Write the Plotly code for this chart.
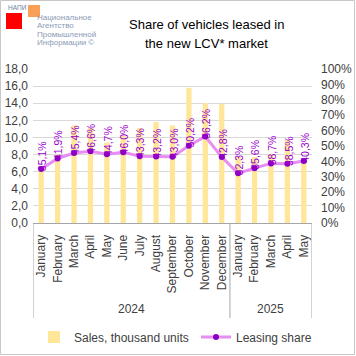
import plotly.graph_objects as go

# ---- data ----
months = ["January", "February", "March", "April", "May", "June", "July", "August",
          "September", "October", "November", "December",
          "January", "February", "March", "April", "May"]
years = ["2024"] * 12 + ["2025"] * 5
sales = [6.4, 8.0, 11.4, 11.1, 9.4, 10.2, 11.1, 11.8, 11.4, 15.8, 14.0, 13.9,
         7.7, 7.7, 8.1, 9.7, 7.1]
leasing_share = [35.1, 41.9, 45.4, 46.6, 44.7, 46.0, 43.3, 43.2, 43.0, 50.2, 56.2, 42.8,
                 32.3, 35.6, 38.7, 38.5, 40.3]
left_ticks = [0, 2, 4, 6, 8, 10, 12, 14, 16, 18]
right_ticks = [0, 10, 20, 30, 40, 50, 60, 70, 80, 90, 100]
right_labels = [f"{v}%" for v in right_ticks]

# ---- layout geometry (pixels) ----
W, H = 356, 356
L, R, T, B = 33, 312, 69, 223


def px(x):
    return (x - L) / (R - L)


def py(y):
    return (B - y) / (B - T)


def cx(x):
    return x / W


def cy(y):
    return 1 - y / H


FONT = "Liberation Sans"
xs = list(range(len(months)))

fig = go.Figure()
fig.add_trace(go.Bar(
    x=xs, y=sales, name="Sales, thousand units", legend="legend", showlegend=True,
    marker=dict(color="#FFE699", line=dict(width=0)), width=0.32,
))
fig.add_trace(go.Scatter(
    x=xs, y=leasing_share, name="Leasing share", yaxis="y2", legend="legend2",
    showlegend=True, mode="lines+markers",
    line=dict(color="#E88DF2", width=3),
    marker=dict(color="#8A00C2", size=6),
))

annotations = []
for x, v in zip(xs, leasing_share):
    annotations.append(dict(
        x=x, y=v, xref="x", yref="y2", text=f"{v:.1f}%".replace(".", ","),
        textangle=-90, showarrow=False, xanchor="center", yanchor="middle",
        yshift=13, xshift=1,
        font=dict(family=FONT, size=10.5, color="#9900CC"),
    ))

# year group labels and dividers
groups = []
for yr in dict.fromkeys(years):
    idx = [i for i, y in enumerate(years) if y == yr]
    groups.append((yr, idx[0], idx[-1]))
shapes = []
bounds = sorted({g[1] - 0.5 for g in groups} | {g[2] + 0.5 for g in groups})
for b in bounds:
    shapes.append(dict(type="line", xref="x", yref="paper", x0=b, x1=b,
                       y0=0, y1=py(318), line=dict(color="#A6A6A6", width=1)))
for yr, a, b in groups:
    annotations.append(dict(
        x=(a + b) / 2, y=py(309), xref="x", yref="paper", text=yr,
        showarrow=False, xanchor="center", yanchor="middle",
        font=dict(family=FONT, size=12, color="#404040"),
    ))

# outer border
shapes.append(dict(type="rect", xref="paper", yref="paper",
                   x0=px(0.5), x1=px(354.5), y0=py(354.5), y1=py(0.5),
                   line=dict(color="#C8C8C8", width=1)))

# logo
shapes.append(dict(type="rect", xref="paper", yref="paper",
                   x0=px(6), x1=px(22), y0=py(29), y1=py(13),
                   fillcolor="#FF0000", line=dict(width=0)))
shapes.append(dict(type="rect", xref="paper", yref="paper",
                   x0=px(28), x1=px(40), y0=py(17), y1=py(5),
                   fillcolor="#F79646", opacity=0.9, line=dict(width=0)))
annotations.append(dict(x=px(6), y=py(7.5), xref="paper", yref="paper", text="НАПИ",
                        showarrow=False, xanchor="left", yanchor="middle",
                        font=dict(family=FONT, size=6.5, color="#6D7FA3")))
logo_lines = ["Национальное", "Агентство", "Промышленной", "Информации ©"]
for i, t in enumerate(logo_lines):
    annotations.append(dict(x=px(35), y=py(17.5 + i * 8.3), xref="paper", yref="paper",
                            text=t, showarrow=False, xanchor="left", yanchor="middle",
                            font=dict(family=FONT, size=8, color="#8C9AB5")))

# title (two lines)
for i, t in enumerate(["Share of vehicles leased in", "the new LCV* market"]):
    annotations.append(dict(x=px(206.5), y=py(25 + i * 18.3), xref="paper", yref="paper",
                            text=t, showarrow=False, xanchor="center", yanchor="middle",
                            font=dict(family=FONT, size=13, color="#000000")))

legend_common = dict(orientation="h", xref="container", yref="container",
                     xanchor="left", yanchor="middle",
                     font=dict(family=FONT, size=12, color="#404040"),
                     bgcolor="rgba(0,0,0,0)", itemwidth=30, borderwidth=0)

fig.update_layout(
    width=W, height=H,
    showlegend=True,
    margin=dict(l=L, r=W - R, t=T, b=H - B, pad=0, autoexpand=False),
    paper_bgcolor="white", plot_bgcolor="white",
    separators=", ",
    font=dict(family=FONT, size=12, color="#404040"),
    xaxis=dict(tickmode="array", tickvals=xs, ticktext=months, tickangle=-90,
               range=[-0.5, len(xs) - 0.5], showgrid=False, zeroline=False,
               showline=True, linecolor="#A6A6A6", linewidth=1, ticks="",
               ticklabelstandoff=6,
               tickfont=dict(family=FONT, size=12, color="#404040")),
    yaxis=dict(range=[0, 18], tickvals=left_ticks, tickformat=".1f",
               showgrid=True, gridcolor="#D9D9D9", gridwidth=1, zeroline=False,
               showline=False, ticks="", ticklabelstandoff=4,
               tickfont=dict(family=FONT, size=12, color="#404040")),
    yaxis2=dict(range=[0, 100], tickmode="array", tickvals=right_ticks,
                ticktext=right_labels, overlaying="y",
                side="right", showgrid=False, zeroline=False, showline=False,
                ticks="", ticklabelstandoff=8,
                tickfont=dict(family=FONT, size=12, color="#404040")),
    legend=dict(x=cx(34), y=cy(337), **legend_common),
    legend2=dict(x=cx(196), y=cy(337), **legend_common),
    bargap=0.6,
    shapes=shapes,
    annotations=annotations,
)

fig.write_html("out.html",
               config={"displayModeBar": False},
               post_script="document.body.style.margin='0px';"
                           "document.body.style.padding='0px';")
